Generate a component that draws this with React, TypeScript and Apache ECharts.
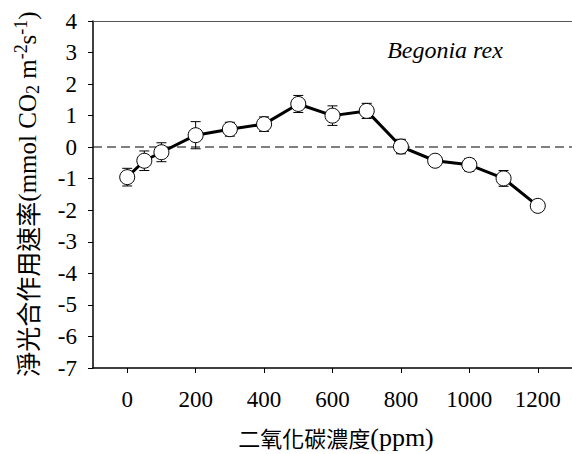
import React, { useEffect, useRef } from "react";
import * as echarts from "echarts";

const co2 = [0, 50, 100, 200, 300, 400, 500, 600, 700, 800, 900, 1000, 1100, 1200];
const netRate = [-0.95, -0.43, -0.16, 0.38, 0.57, 0.73, 1.37, 1.0, 1.15, 0.02, -0.43, -0.56, -0.99, -1.86];
const errBar = [0.28, 0.31, 0.3, 0.43, 0.22, 0.23, 0.27, 0.31, 0.24, 0.23, 0.08, 0.2, 0.25, 0.05];
const xTicks = [0, 200, 400, 600, 800, 1000, 1200];
const speciesLabel = "Begonia rex";

const SERIF = "Liberation Serif";
const CJK = "Noto Sans CJK TC";

export default function App() {
  const ref = useRef<HTMLDivElement>(null);
  useEffect(() => {
    if (!ref.current) return;
    const chart = echarts.init(ref.current, undefined, { renderer: "svg" });
    const points = co2.map((x, i) => [x, netRate[i]]);
    const errData = co2.map((x, i) => [x, netRate[i] - errBar[i], netRate[i] + errBar[i]]);
    chart.setOption({
      animation: false,
      backgroundColor: "#fff",
      textStyle: { fontFamily: SERIF },
      grid: { left: 93, top: 21, width: 482, height: 347 },
      xAxis: [
        {
          type: "value",
          min: -100,
          max: 1300,
          position: "bottom",
          axisLine: { show: true, onZero: false, lineStyle: { color: "#000", width: 1.5 } },
          axisTick: { show: true, customValues: xTicks, length: 5, lineStyle: { color: "#000", width: 1 } },
          axisLabel: {
            customValues: xTicks,
            margin: 20,
            fontSize: 23,
            color: "#000",
            fontFamily: SERIF,
            formatter: (v: number) => String(v),
          },
          splitLine: { show: false },
        },
        {
          type: "value",
          min: -100,
          max: 1300,
          position: "top",
          axisLine: { show: true, onZero: false, lineStyle: { color: "#555", width: 1.2 } },
          axisTick: { show: false },
          axisLabel: { show: false },
          splitLine: { show: false },
        },
      ],
      yAxis: {
        type: "value",
        min: -7,
        max: 4,
        interval: 1,
        axisLine: { show: true, onZero: false, lineStyle: { color: "#000", width: 1.5 } },
        axisTick: { show: true, length: 5, lineStyle: { color: "#000", width: 1 } },
        axisLabel: { margin: 16, fontSize: 23, color: "#000", fontFamily: SERIF, formatter: (v: number) => String(v) },
        splitLine: { show: false },
      },
      series: [
        {
          type: "custom",
          z: 1,
          data: errData,
          renderItem: (params: any, api: any) => {
            const x = api.value(0);
            const lo = api.coord([x, api.value(1)]);
            const hi = api.coord([x, api.value(2)]);
            const cw = 5;
            const st = { stroke: "#000", lineWidth: 1 };
            return {
              type: "group",
              children: [
                { type: "line", shape: { x1: lo[0], y1: lo[1], x2: hi[0], y2: hi[1] }, style: st },
                { type: "line", shape: { x1: lo[0] - cw, y1: lo[1], x2: lo[0] + cw, y2: lo[1] }, style: st },
                { type: "line", shape: { x1: hi[0] - cw, y1: hi[1], x2: hi[0] + cw, y2: hi[1] }, style: st },
              ],
            };
          },
        },
        {
          type: "line",
          z: 3,
          data: points,
          symbol: "circle",
          symbolSize: 15,
          itemStyle: { color: "#fff", borderColor: "#000", borderWidth: 1 },
          lineStyle: { color: "#000", width: 3 },
          markLine: {
            silent: true,
            symbol: "none",
            label: { show: false },
            lineStyle: { color: "#555", width: 1.5, type: [9, 5] },
            data: [{ yAxis: 0 }],
            z: 0,
          },
        },
      ],
      graphic: [
        {
          type: "text",
          x: 445,
          y: 50,
          style: {
            text: speciesLabel,
            fontFamily: SERIF,
            fontStyle: "italic",
            fontSize: 24,
            fill: "#000",
            align: "center",
            verticalAlign: "middle",
          },
        },
        {
          type: "text",
          x: 336,
          y: 437,
          style: {
            text: "{c|二氧化碳濃度}{t|(ppm)}",
            align: "center",
            verticalAlign: "middle",
            rich: {
              c: { fontFamily: CJK, fontSize: 22, fill: "#000", lineHeight: 24 },
              t: { fontFamily: SERIF, fontSize: 26, fill: "#000", lineHeight: 24 },
            },
          },
        },
        {
          type: "text",
          x: 27,
          y: 194,
          rotation: Math.PI / 2,
          style: {
            text: "{c|淨光合作用速率}{t|(mmol CO}{sub|2}{t| m}{sup|-2}{t|s}{sup|-1}{t|)}",
            align: "center",
            verticalAlign: "middle",
            rich: {
              c: { fontFamily: CJK, fontSize: 25, fill: "#000", lineHeight: 30 },
              t: { fontFamily: SERIF, fontSize: 25, fill: "#000", lineHeight: 30 },
              sub: { fontFamily: SERIF, fontSize: 18, fill: "#000", lineHeight: 16, verticalAlign: "bottom" },
              sup: { fontFamily: SERIF, fontSize: 18, fill: "#000", lineHeight: 18, verticalAlign: "top" },
            },
          },
        },
      ],
    });
    return () => chart.dispose();
  }, []);
  return (
    <div
      ref={ref}
      style={{ position: "fixed", left: 0, top: 0, width: 572, height: 454, background: "#fff" }}
    />
  );
}
